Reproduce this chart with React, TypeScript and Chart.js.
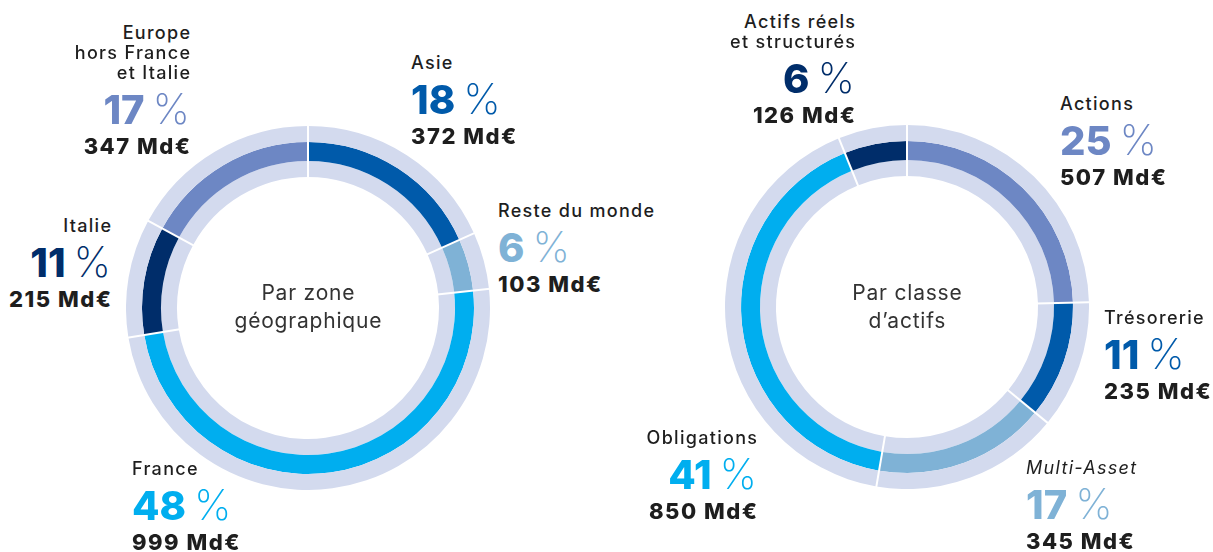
import React, { useEffect, useRef } from "react";
import { Chart, registerables } from "chart.js";

Chart.register(...registerables);

// ---- Data ----
const geoCategories = ["Asie", "Reste du monde", "France", "Italie", "Europe hors France et Italie"];
const geoNameLines = [["Asie"], ["Reste du monde"], ["France"], ["Italie"], ["Europe", "hors France", "et Italie"]];
const geoPercents = [18, 6, 48, 11, 17];
const geoAmounts = [372, 103, 999, 215, 347];

const assetCategories = ["Actions", "Trésorerie", "Multi-Asset", "Obligations", "Actifs réels et structurés"];
const assetNameLines = [["Actions"], ["Trésorerie"], ["Multi-Asset"], ["Obligations"], ["Actifs réels", "et structurés"]];
const assetPercents = [25, 11, 17, 41, 6];
const assetAmounts = [507, 235, 345, 850, 126];

const geoTitle = ["Par zone", "géographique"];
const assetTitle = ["Par classe", "d’actifs"];

// ---- Styles ----
const LIGHT = "#d3daee";
const geoColors = ["#005aaa", "#7fb2d6", "#00aeef", "#002d6a", "#6d87c4"];
const assetColors = ["#6d87c4", "#005aaa", "#7fb2d6", "#00aeef", "#002d6a"];
const FONT = "Inter, 'Noto Sans', sans-serif";
const TEXT = "#1e1e1e";

type LabelPos = { x: number; y: number; align: "left" | "right"; italic?: boolean };
const geoLabelPos: LabelPos[] = [
  { x: 411, y: 63, align: "left" },
  { x: 498, y: 211, align: "left" },
  { x: 132, y: 469, align: "left" },
  { x: 111, y: 226, align: "right" },
  { x: 190, y: 33, align: "right" },
];
const assetLabelPos: LabelPos[] = [
  { x: 1060, y: 104, align: "left" },
  { x: 1104, y: 318, align: "left" },
  { x: 1026, y: 468, align: "left", italic: true },
  { x: 757, y: 438, align: "right" },
  { x: 855, y: 22, align: "right" },
];

const R = 182;

const separators = {
  id: "separators",
  afterDatasetsDraw(chart: any) {
    const n = chart.data.datasets.length;
    const outer = chart.getDatasetMeta(0).data;
    const inner = chart.getDatasetMeta(n - 1).data;
    const ctx = chart.ctx;
    ctx.save();
    ctx.strokeStyle = "#ffffff";
    ctx.lineWidth = 2;
    outer.forEach((arc: any, i: number) => {
      const p = arc.getProps(["x", "y", "startAngle", "outerRadius"], true);
      const r0 = inner[i].getProps(["innerRadius"], true).innerRadius;
      const a = p.startAngle;
      ctx.beginPath();
      ctx.moveTo(p.x + Math.cos(a) * (r0 - 1), p.y + Math.sin(a) * (r0 - 1));
      ctx.lineTo(p.x + Math.cos(a) * (p.outerRadius + 1), p.y + Math.sin(a) * (p.outerRadius + 1));
      ctx.stroke();
    });
    ctx.restore();
  },
};

function Donut({ labels, values, colors, left, top }: { labels: string[]; values: number[]; colors: string[]; left: number; top: number }) {
  const ref = useRef<HTMLCanvasElement | null>(null);
  useEffect(() => {
    if (!ref.current) return;
    const light = values.map(() => LIGHT);
    const chart = new Chart(ref.current, {
      type: "doughnut",
      data: {
        labels,
        datasets: [
          { data: values, backgroundColor: light, borderWidth: 0, weight: 16 },
          { data: values, backgroundColor: colors, borderWidth: 0, weight: 19 },
          { data: values, backgroundColor: light, borderWidth: 0, weight: 16 },
        ],
      },
      options: {
        responsive: false,
        animation: false,
        cutout: "72%",
        layout: { padding: 0 },
        plugins: { legend: { display: false }, tooltip: { enabled: false } },
        events: [],
      },
      plugins: [separators],
    } as any);
    return () => chart.destroy();
  }, []);
  return (
    <canvas
      ref={ref}
      width={2 * R}
      height={2 * R}
      style={{ position: "absolute", left, top, width: 2 * R, height: 2 * R }}
    />
  );
}

function Line({ text, cy, h, pos, ls, style }: { text: React.ReactNode; cy: number; h: number; pos: LabelPos; ls: number; style: React.CSSProperties }) {
  const base: React.CSSProperties = {
    position: "absolute",
    top: cy - h / 2,
    height: h,
    lineHeight: h + "px",
    whiteSpace: "nowrap",
    fontFamily: FONT,
    color: TEXT,
    textAlign: pos.align,
    letterSpacing: ls,
  };
  if (pos.align === "left") base.left = pos.x;
  else base.right = 1213 - pos.x - ls;
  return <div style={{ ...base, ...style }}>{text}</div>;
}

function Label({ names, pct, amount, color, pos }: { names: string[]; pct: number; amount: number; color: string; pos: LabelPos }) {
  const nameGap = 20;
  const lastName = pos.y + nameGap * (names.length - 1);
  const pctY = lastName + 36;
  const amtY = pctY + 37;
  return (
    <>
      {names.map((t, i) => (
        <Line
          key={i}
          text={t}
          cy={pos.y + nameGap * i}
          h={20}
          pos={pos}
          ls={1.3}
          style={{ fontSize: 18, fontWeight: 450, fontStyle: pos.italic ? "italic" : "normal" }}
        />
      ))}
      <Line
        text={
          <>
            <span style={{ fontWeight: 800 }}>{pct}</span>
            <span style={{ fontWeight: 200, marginLeft: 8, fontSize: 42 }}>%</span>
          </>
        }
        cy={pctY}
        h={44}
        pos={pos}
        ls={0}
        style={{ fontSize: 40, color }}
      />
      <Line text={amount + " Md€"} cy={amtY} h={26} pos={pos} ls={1.5} style={{ fontSize: 22, fontWeight: 800 }} />
    </>
  );
}

function Title({ lines, cx }: { lines: string[]; cx: number }) {
  return (
    <>
      {lines.map((t, i) => (
        <div
          key={i}
          style={{
            position: "absolute",
            left: cx - 150 + 0.4,
            width: 300,
            top: 293 + i * 28 - 14,
            height: 28,
            lineHeight: "28px",
            textAlign: "center",
            fontFamily: FONT,
            fontSize: 21,
            letterSpacing: 0.8,
            color: "#333333",
            whiteSpace: "nowrap",
          }}
        >
          {t}
        </div>
      ))}
    </>
  );
}

export default function App() {
  return (
    <div style={{ position: "absolute", left: 0, top: 0, width: 1213, height: 552, background: "#ffffff", overflow: "hidden" }}>
      <Donut labels={geoCategories} values={geoAmounts} colors={geoColors} left={308 - R} top={308 - R} />
      <Donut labels={assetCategories} values={assetAmounts} colors={assetColors} left={907 - R} top={307 - R} />
      <Title lines={geoTitle} cx={308} />
      <Title lines={assetTitle} cx={907} />
      {geoNameLines.map((names, i) => (
        <Label key={"g" + i} names={names} pct={geoPercents[i]} amount={geoAmounts[i]} color={geoColors[i]} pos={geoLabelPos[i]} />
      ))}
      {assetNameLines.map((names, i) => (
        <Label key={"a" + i} names={names} pct={assetPercents[i]} amount={assetAmounts[i]} color={assetColors[i]} pos={assetLabelPos[i]} />
      ))}
    </div>
  );
}
